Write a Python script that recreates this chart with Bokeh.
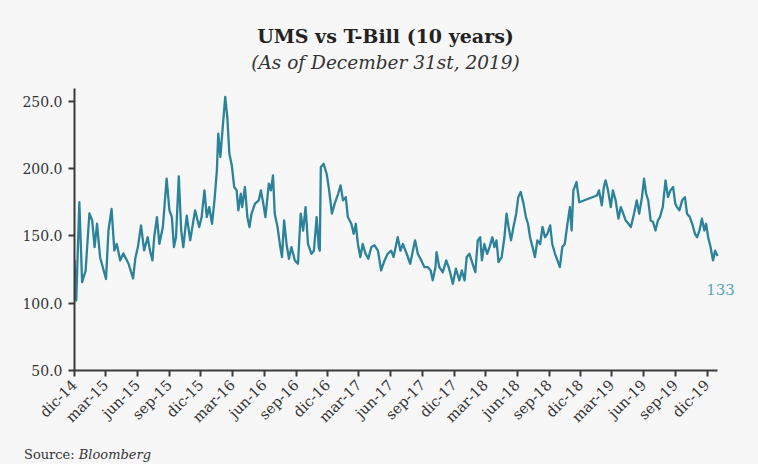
import math
import pandas as pd
from bokeh.plotting import figure
from bokeh.models import Range1d, FixedTicker, NumeralTickFormatter, Label, ColumnDataSource, Div
from bokeh.layouts import column
from bokeh.embed import file_html
from bokeh.resources import INLINE

# ---- data ----
dates = [
    "2014-12-01", "2014-12-06", "2014-12-15", "2014-12-23", "2015-01-02", "2015-01-13", "2015-01-21",
    "2015-01-28", "2015-02-04", "2015-02-13", "2015-03-02", "2015-03-09", "2015-03-18", "2015-03-26",
    "2015-04-02", "2015-04-12", "2015-04-21", "2015-05-06", "2015-05-19", "2015-05-26", "2015-06-02",
    "2015-06-11", "2015-06-20", "2015-06-30", "2015-07-07", "2015-07-14", "2015-07-19", "2015-07-27",
    "2015-08-03", "2015-08-13", "2015-08-24", "2015-09-01", "2015-09-08", "2015-09-14", "2015-09-20",
    "2015-09-28", "2015-10-05", "2015-10-11", "2015-10-21", "2015-10-31", "2015-11-14", "2015-11-26",
    "2015-12-03", "2015-12-11", "2015-12-18", "2015-12-25", "2016-01-02", "2016-01-09", "2016-01-16",
    "2016-01-20", "2016-01-26", "2016-02-02", "2016-02-09", "2016-02-15", "2016-02-21", "2016-02-28",
    "2016-03-06", "2016-03-13", "2016-03-18", "2016-03-25", "2016-03-29", "2016-04-06", "2016-04-13",
    "2016-04-19", "2016-04-25", "2016-05-05", "2016-05-16", "2016-05-22", "2016-05-29", "2016-06-04",
    "2016-06-14", "2016-06-20", "2016-06-26", "2016-07-01", "2016-07-09", "2016-07-17", "2016-07-22",
    "2016-07-28", "2016-08-04", "2016-08-11", "2016-08-18", "2016-08-28", "2016-09-06", "2016-09-14",
    "2016-09-21", "2016-09-28", "2016-10-05", "2016-10-15", "2016-10-22", "2016-10-30", "2016-11-05",
    "2016-11-08", "2016-11-11", "2016-11-19", "2016-11-28", "2016-12-05", "2016-12-13", "2016-12-21",
    "2016-12-31", "2017-01-07", "2017-01-14", "2017-01-22", "2017-01-28", "2017-02-07", "2017-02-14",
    "2017-02-20", "2017-02-26", "2017-03-05", "2017-03-12", "2017-03-20", "2017-03-28", "2017-04-06",
    "2017-04-15", "2017-04-25", "2017-05-04", "2017-05-14", "2017-05-23", "2017-06-02", "2017-06-09",
    "2017-06-21", "2017-06-29", "2017-07-06", "2017-07-17", "2017-07-27", "2017-08-10", "2017-08-18",
    "2017-08-28", "2017-09-06", "2017-09-16", "2017-09-24", "2017-09-30", "2017-10-08", "2017-10-11",
    "2017-10-19", "2017-10-29", "2017-11-08", "2017-11-15", "2017-11-19", "2017-11-27", "2017-12-06",
    "2017-12-16", "2017-12-23", "2017-12-31", "2018-01-06", "2018-01-14", "2018-01-23", "2018-01-31",
    "2018-02-07", "2018-02-14", "2018-02-19", "2018-02-26", "2018-03-06", "2018-03-13", "2018-03-21",
    "2018-03-27", "2018-04-02", "2018-04-08", "2018-04-17", "2018-04-25", "2018-05-01", "2018-05-07",
    "2018-05-14", "2018-05-21", "2018-05-29", "2018-06-04", "2018-06-11", "2018-06-19", "2018-06-26",
    "2018-07-02", "2018-07-08", "2018-07-15", "2018-07-22", "2018-07-29", "2018-08-06", "2018-08-13",
    "2018-08-20", "2018-08-27", "2018-09-04", "2018-09-10", "2018-09-18", "2018-09-25", "2018-10-02",
    "2018-10-09", "2018-10-16", "2018-10-24", "2018-10-31", "2018-11-05", "2018-11-10", "2018-11-19",
    "2018-11-27", "2019-01-17", "2019-01-23", "2019-01-31", "2019-02-06", "2019-02-11", "2019-02-18",
    "2019-02-26", "2019-03-04", "2019-03-12", "2019-03-20", "2019-03-27", "2019-04-03", "2019-04-10",
    "2019-04-18", "2019-04-25", "2019-05-04", "2019-05-12", "2019-05-19", "2019-05-27", "2019-06-02",
    "2019-06-08", "2019-06-14", "2019-06-21", "2019-06-28", "2019-07-05", "2019-07-12", "2019-07-18",
    "2019-07-26", "2019-08-03", "2019-08-10", "2019-08-17", "2019-08-25", "2019-08-31", "2019-09-05",
    "2019-09-12", "2019-09-20", "2019-09-28", "2019-10-04", "2019-10-12", "2019-10-19", "2019-10-27",
    "2019-11-02", "2019-11-09", "2019-11-16", "2019-11-23", "2019-11-28", "2019-12-04", "2019-12-11",
    "2019-12-18", "2019-12-24", "2019-12-31",
]
spread = [
    132, 102, 175, 115.6, 124, 166.7, 161.5,
    141.7, 159, 134, 118, 154, 170, 139,
    144, 131.8, 137, 129.3, 118.4, 134, 141.7,
    157.8, 139.2, 149, 139, 131.8, 149, 164,
    144, 156.6, 192.5, 169, 164, 141.7, 149,
    194.2, 154, 141.7, 165, 146.7, 169, 156.6,
    164, 183.8, 164, 171.4, 159, 176.4, 198.7,
    226, 208.6, 231, 253.2, 238.4, 211, 202.4,
    186.3, 183.8, 169, 181.3, 171.4, 186.3, 164,
    156.6, 166.5, 174, 176.4, 183.8, 174, 164,
    188.8, 183.8, 195, 166.5, 156.6, 141.7, 134.3,
    161.5, 144, 133, 141.7, 131.8, 129.3, 166.5,
    154, 171.4, 144, 136.7, 139, 164, 141.7,
    139, 201, 203.6, 196, 183.8, 166.5, 174,
    181.3, 187.5, 176.4, 178.8, 164, 159, 151.5,
    159, 144, 134.3, 144, 136.7, 133, 141.7,
    143, 139, 124.3, 131.8, 136.7, 139, 134.3,
    149, 139, 144, 136.7, 129.3, 146.7, 136.7,
    131.8, 126.8, 126.8, 124.3, 117, 126.8, 138,
    126.8, 123, 131.8, 126.8, 123, 114.4, 125.6,
    117, 124.3, 117, 134.3, 136.7, 129.3, 123,
    146.7, 149, 131.8, 144, 136.7, 141.7, 149,
    141.7, 146.7, 130.5, 134.3, 149, 166.5, 156.6,
    146.7, 156.6, 166.5, 178.8, 182.6, 174, 164,
    159, 149, 141.7, 134.3, 146.7, 144, 156.6,
    149, 151.5, 157.8, 144, 136.7, 131.8, 126.8,
    141.7, 144, 159, 171.4, 154, 183.8, 190,
    175, 180, 183.8, 172.7, 186.3, 191.3, 183.8,
    171.4, 183.8, 176.4, 162.8, 171.4, 166.5, 161.5,
    159, 156.6, 166.5, 176.4, 166.5, 178.8, 192.5,
    181.3, 176.4, 161.5, 160.3, 154, 161.5, 164,
    171.4, 191.3, 178.8, 183.8, 186.3, 174, 171.4,
    169, 176.4, 178.8, 166.5, 164, 159, 151.5,
    149, 154, 162.8, 154, 159, 149, 141.7,
    131.8, 139, 135,
]
last_label = "133"

tick_dates = [
    "2014-12-01", "2015-03-01", "2015-06-01", "2015-09-01", "2015-12-01", "2016-03-01", "2016-06-01",
    "2016-09-01", "2016-12-01", "2017-03-01", "2017-06-01", "2017-09-01", "2017-12-01", "2018-03-01",
    "2018-06-01", "2018-09-01", "2018-12-01", "2019-03-01", "2019-06-01", "2019-09-01", "2019-12-01",
]
tick_labels = [
    "dic-14", "mar-15", "jun-15", "sep-15", "dic-15", "mar-16", "jun-16",
    "sep-16", "dic-16", "mar-17", "jun-17", "sep-17", "dic-17", "mar-18",
    "jun-18", "sep-18", "dic-18", "mar-19", "jun-19", "sep-19", "dic-19",
]
y_ticks = [50, 100, 150, 200, 250]
y_axis_top = 259.5

title_text = "UMS vs T-Bill (10 years)"
subtitle_text = "(As of December 31st, 2019)"
source_label = "Source:"
source_name = "Bloomberg"

# ---- figure ----
FONT = "DejaVu Serif"
BG = "#f7f7f7"
LINE = "#2b8299"

W, H = 758, 446
LEFT, BOTTOM = 74, 76          # frame offsets inside the figure
AX_RIGHT = 717                 # where the x axis line ends (figure px)
AX_TOP = 88                    # where the y axis line ends (figure px)

x = pd.to_datetime(dates)
src = ColumnDataSource(dict(x=x, y=spread))

x0, x1 = pd.Timestamp(dates[0]), pd.Timestamp(dates[-1])
frame_w = W - LEFT
x_end = x0 + (x1 - x0) * (frame_w / (AX_RIGHT - LEFT))
frame_h = H - BOTTOM
y_end = y_ticks[0] + (y_axis_top - y_ticks[0]) * (frame_h / (frame_h - AX_TOP))

p = figure(width=W, height=H, x_axis_type="datetime",
           output_backend="svg", toolbar_location=None,
           x_range=Range1d(x0, x_end), y_range=Range1d(y_ticks[0], y_end),
           min_border_left=LEFT, min_border_right=0, min_border_top=0, min_border_bottom=BOTTOM)
p.background_fill_color = BG
p.border_fill_color = BG
p.outline_line_color = None
p.grid.visible = False

p.line("x", "y", source=src, line_color=LINE, line_width=2.3, line_join="round")

tick_ms = [pd.Timestamp(d).value / 1e6 for d in tick_dates]
p.xaxis.ticker = FixedTicker(ticks=tick_ms)
p.xaxis.major_label_overrides = {t: l for t, l in zip(tick_ms, tick_labels)}
p.xaxis.major_label_orientation = math.pi / 4
p.xaxis.minor_tick_line_color = None
p.xaxis.bounds = (x0, x1)

p.yaxis.ticker = FixedTicker(ticks=y_ticks)
p.yaxis.formatter = NumeralTickFormatter(format="0.0")
p.yaxis.minor_tick_line_color = None
p.yaxis.bounds = (y_ticks[0], y_axis_top)

for ax in (p.xaxis, p.yaxis):
    ax.axis_line_color = "#3a3a3a"
    ax.axis_line_width = 2
    ax.major_tick_line_color = "#3a3a3a"
    ax.major_tick_line_width = 2
    ax.major_tick_in = 0
    ax.major_tick_out = 6
    ax.major_label_text_font = FONT
    ax.major_label_text_color = "#333333"
    ax.major_label_standoff = 6
p.xaxis.major_label_text_font_size = "14.5px"
p.yaxis.major_label_text_font_size = "14px"

# titles (screen units relative to the plot frame's bottom-left)
p.add_layout(Label(x=311, y=335, x_units="screen", y_units="screen", text=title_text,
                   text_font=FONT, text_font_size="19px", text_font_style="bold",
                   text_color="#222222", text_align="center", text_baseline="middle"))
p.add_layout(Label(x=311, y=308, x_units="screen", y_units="screen", text=subtitle_text,
                   text_font=FONT, text_font_size="18.5px", text_font_style="italic",
                   text_color="#333333", text_align="center", text_baseline="middle"))

# end value label
p.add_layout(Label(x=x1, y=110, x_offset=3, text=last_label,
                   text_font=FONT, text_font_size="15px", text_color="#5aa6b9",
                   text_align="center", text_baseline="middle"))

source = Div(text=f"{source_label} <i>{source_name}</i>", width=W, height=18, margin=(0, 0, 0, 0),
             styles={"font-family": FONT, "font-size": "13px", "line-height": "14px",
                     "color": "#333333", "background-color": BG, "padding-left": "24px",
                     "padding-top": "2px", "overflow": "visible"})

layout = column(p, source, spacing=0, styles={"background-color": BG})
open("out.html", "w").write(file_html(layout, INLINE))
